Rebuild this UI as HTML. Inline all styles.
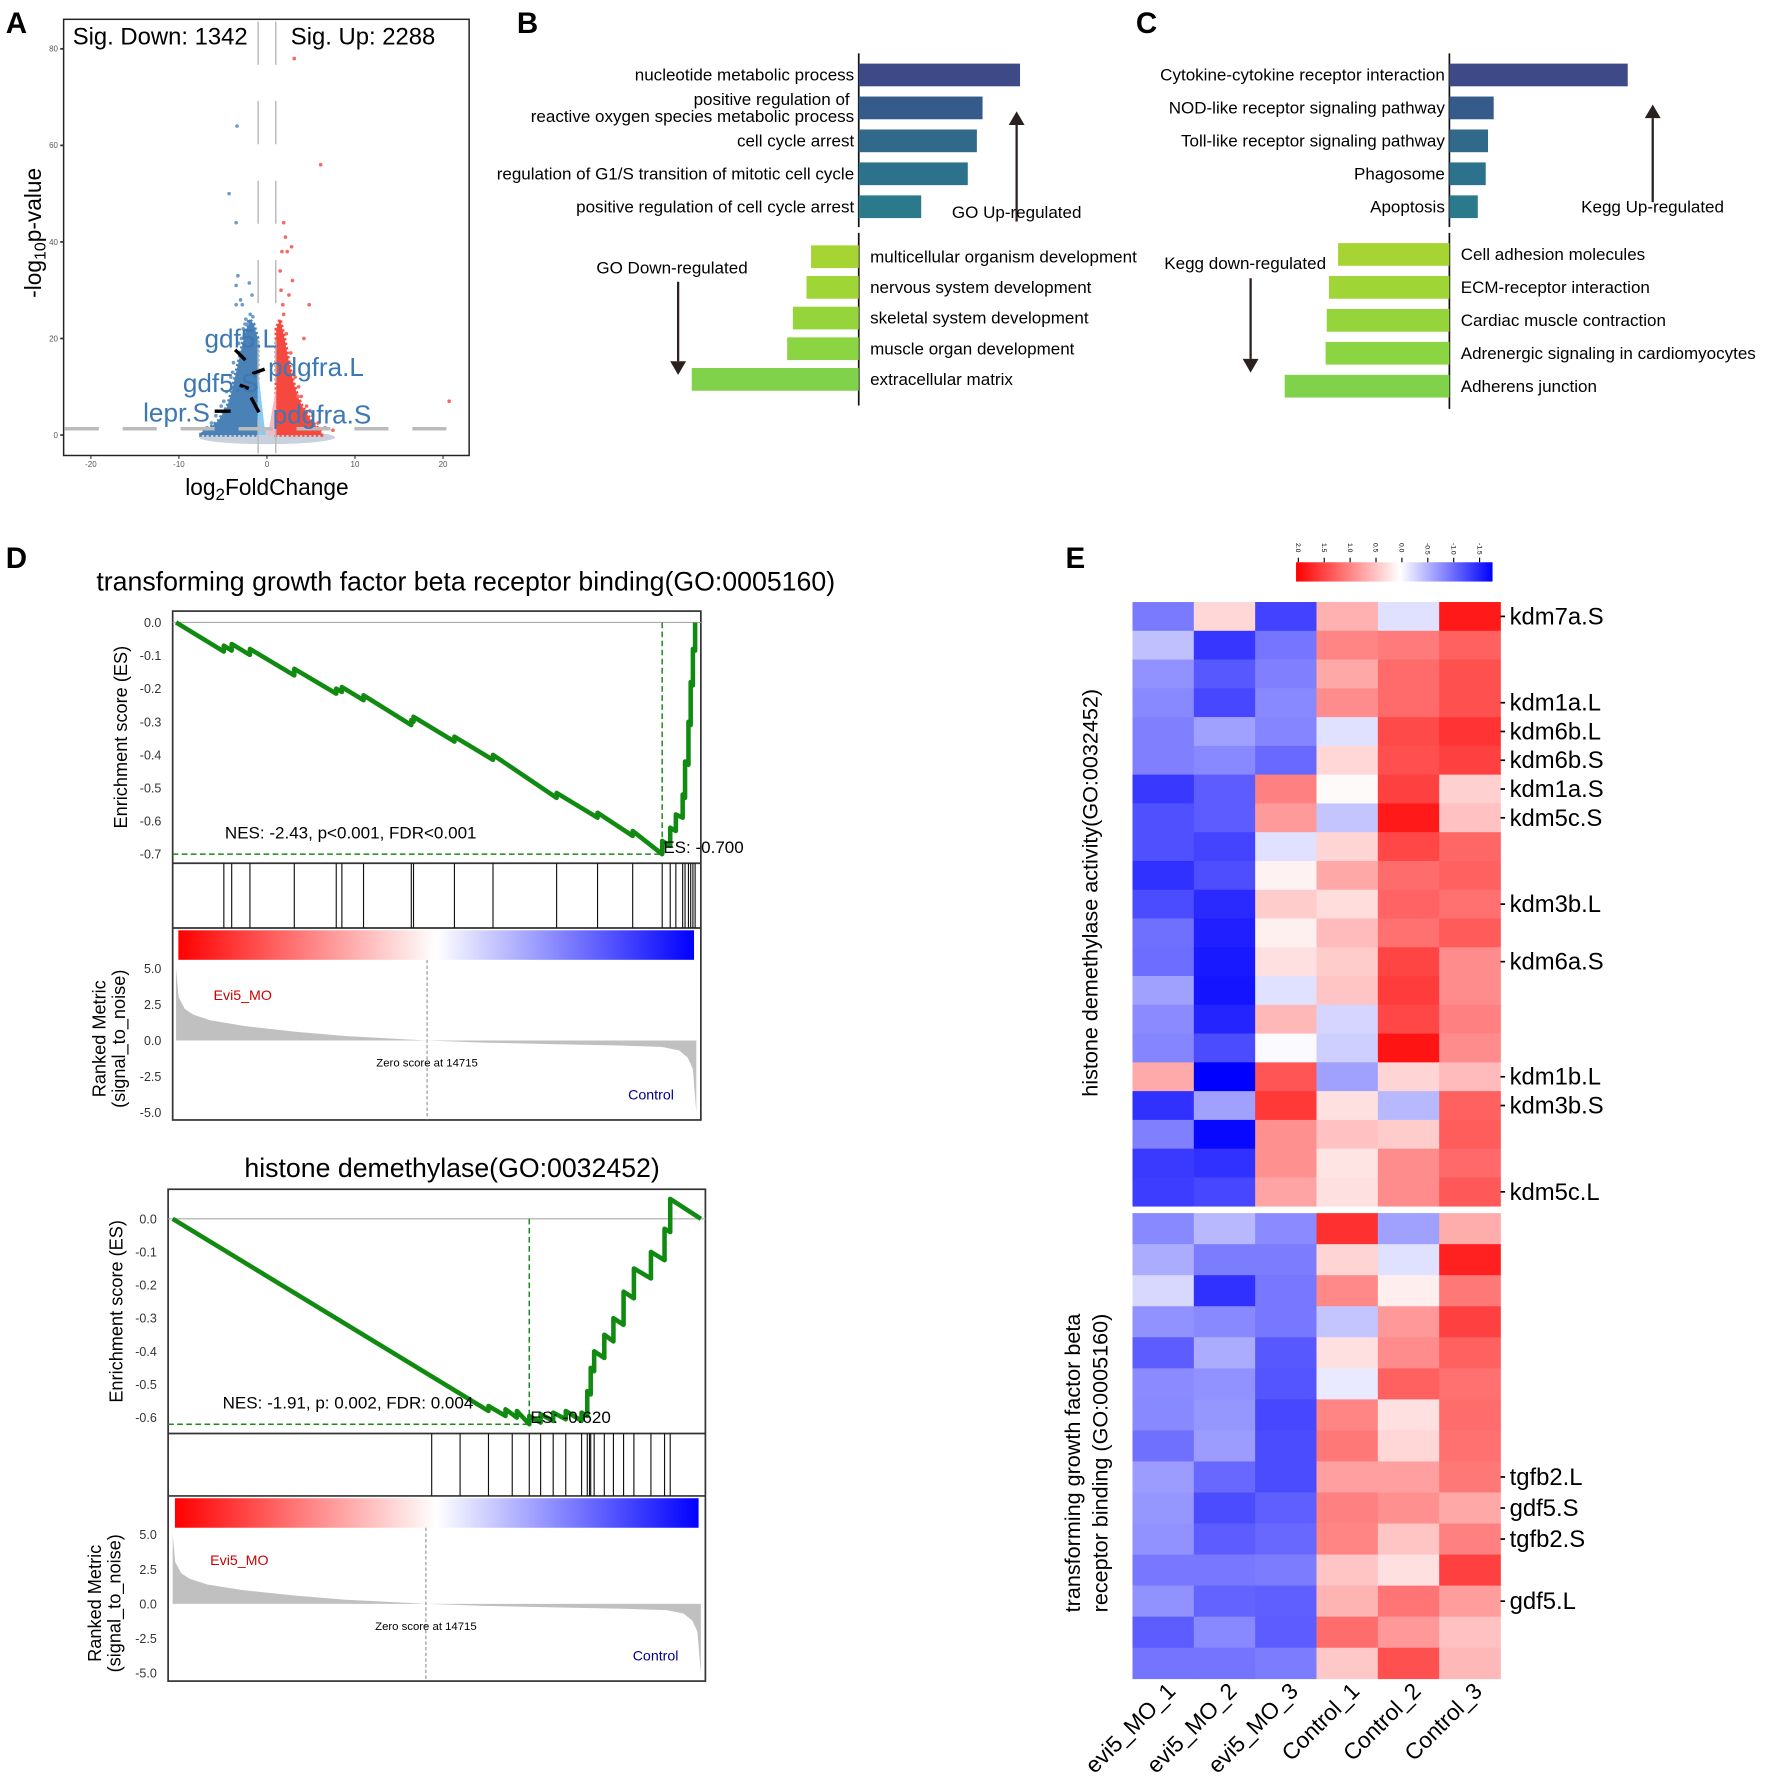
<!DOCTYPE html>
<html><head><meta charset="utf-8"><style>
html,body{margin:0;padding:0;background:#fff}
svg{display:block;font-family:"Liberation Sans",Arial,sans-serif}
</style></head><body>
<svg id="fig" xmlns="http://www.w3.org/2000/svg" width="1772" height="1789" viewBox="0 0 1560 1575"></svg>
<script>
// ---------- Panel A data ----------
const volTicksX=[-20,-10,0,10,20];
const volTicksY=[0,20,40,60,80];
const downEnvX=[-7.5,-6.5,-5.5,-4.5,-4,-3.5,-3,-2.5,-2,-1.5,-1.05];
const downEnvTop=[0.5,1.5,3,6,9,13,17,21,24,23,20];
const upEnvX=[1.05,1.5,2,2.5,3,3.5,4,4.5,5,5.5,6.2];
const upEnvTop=[22,24,20,15,11,8,6,4.5,3,2,0.5];
const downOutX=[-3.4,-4.3,-3.5,-3.3,-3.5,-2,-1.7,-3,-3.5,-2.8,-2.4,-2.2,-5.8,-5.2,-4.6,-4.1,-3.8,-3.2,-2.7,-6.3,-4.9,-3.9,-2.9,-2.5,-1.9,-1.6,-6.8];
const downOutY=[64,50,44,33,31,31.5,29,28,27,27,24,23,4,6,9,12,15,19,22,2.5,7,13,20,23,25,24.5,1.5];
const upOutX=[3.1,6.1,1.9,2.1,2.8,1.7,2.3,1.5,2.9,4.8,1.8,4.2,3.5,20.7,2.5,1.6,3.2,3.9,4.5,5.2,5.8,2.7,2.2,1.9,3.6,4.9,6.6,7.5];
const upOutY=[78,56,44,41,39,38,38,34,32,27,27,20,8,7,29,30,12,8,6,4,2.5,17,21,25,10,5,1.5,1];
// ---------- Panel B/C data ----------
const goUpTerms=["nucleotide metabolic process","positive regulation of|reactive oxygen species metabolic process","cell cycle arrest","regulation of G1/S transition of mitotic cell cycle","positive regulation of cell cycle arrest"];
const goUpVals=[142,109,104,96,55];
const goDownTerms=["multicellular organism development","nervous system development","skeletal system development","muscle organ development","extracellular matrix"];
const goDownVals=[42,46,58,63,147];
const keggUpTerms=["Cytokine-cytokine receptor interaction","NOD-like receptor signaling pathway","Toll-like receptor signaling pathway","Phagosome","Apoptosis"];
const keggUpVals=[157,39,34,32,25];
const keggDownTerms=["Cell adhesion molecules","ECM-receptor interaction","Cardiac muscle contraction","Adrenergic signaling in cardiomyocytes","Adherens junction"];
const keggDownVals=[98,106,108,109,145];
// ---------- Panel D data ----------
const es1Rank=[0,2800,2800,3260,3260,4330,4330,6930,6930,9390,9390,9720,9720,10990,10990,13790,13790,13920,13920,16320,16320,18580,18580,22310,22310,24710,24710,26770,26770,28500,28500,28970,28970,29300,29300,29700,29700,29840,29840,30040,30040,30170,30170,30300,30300,30430,30430];
const es1Val=[0,-0.088,-0.07,-0.085,-0.065,-0.098,-0.08,-0.16,-0.14,-0.215,-0.2,-0.21,-0.195,-0.235,-0.22,-0.31,-0.295,-0.30,-0.285,-0.36,-0.345,-0.415,-0.40,-0.53,-0.515,-0.59,-0.575,-0.645,-0.63,-0.70,-0.66,-0.675,-0.62,-0.63,-0.58,-0.59,-0.52,-0.53,-0.42,-0.43,-0.3,-0.31,-0.18,-0.19,-0.08,-0.085,0];
const hits1=[2800,3260,4330,6930,9390,9720,10990,13790,13920,16320,18580,22310,24710,26770,28500,28970,29300,29700,29840,30040,30170,30300,30430];
const es2Rank=[0,18350,18350,19340,19340,20000,20000,20720,20720,21380,21380,22110,22110,22840,22840,23760,23760,24090,24090,24290,24290,24490,24490,25080,25080,25610,25610,26200,26200,26800,26800,27790,27790,28580,28580,28910,28910,30690];
const es2Val=[0,-0.58,-0.565,-0.595,-0.575,-0.6,-0.58,-0.62,-0.595,-0.615,-0.59,-0.61,-0.585,-0.605,-0.58,-0.61,-0.585,-0.595,-0.52,-0.53,-0.45,-0.46,-0.40,-0.42,-0.35,-0.37,-0.30,-0.32,-0.22,-0.24,-0.15,-0.18,-0.10,-0.125,-0.03,-0.04,0.06,0];
const hits2=[15050,16700,18350,19730,20720,21380,22110,22840,23760,24090,24220,24290,24490,25080,25610,26200,26800,27790,28580,28910];
const metricRank=[0,150,500,1000,2000,4000,7000,10000,14715,18000,22000,26000,28500,29500,30000,30300,30500];
const metricVal=[5.0,3.0,2.2,1.8,1.4,1.0,0.6,0.3,0,-0.15,-0.25,-0.35,-0.45,-0.7,-1.2,-2.0,-5.0];
const metricTicks=[5.0,2.5,0.0,-2.5,-5.0];
// ---------- Panel E data ----------
const hmSamples=["evi5_MO_1","evi5_MO_2","evi5_MO_3","Control_1","Control_2","Control_3"];
const hm1=[
[-0.78,0.31,-1.11,0.62,-0.18,1.8],[-0.37,-1.18,-0.81,0.96,1.04,1.25],[-0.65,-0.98,-0.75,0.68,1.17,1.37],
[-0.7,-1.08,-0.7,0.9,1.17,1.37],[-0.75,-0.56,-0.72,-0.18,1.42,1.6],[-0.75,-0.7,-0.88,0.31,1.38,1.5],
[-1.17,-0.96,1.0,0.04,1.5,0.37],[-1.03,-0.96,0.79,-0.35,1.8,0.49],[-1.03,-1.1,-0.18,0.34,1.44,1.2],
[-1.22,-1.04,0.1,0.68,1.15,1.25],[-1.06,-1.25,0.4,0.27,1.22,1.12],[-0.84,-1.32,0.12,0.53,1.12,1.29],
[-0.86,-1.35,0.24,0.4,1.47,0.9],[-0.56,-1.38,-0.18,0.46,1.53,0.9],[-0.68,-1.29,0.56,-0.25,1.44,1.0],
[-0.72,-1.05,-0.03,-0.28,1.84,0.9],[0.67,-1.5,1.33,-0.56,0.34,0.53],[-1.22,-0.56,1.56,0.24,-0.42,1.25],
[-0.75,-1.45,0.87,0.49,0.4,1.28],[-1.16,-1.22,0.87,0.21,0.9,1.18],[-1.14,-1.08,0.71,0.24,0.9,1.31]];
const hm2=[
[-0.7,-0.42,-0.68,1.62,-0.56,0.65],[-0.49,-0.77,-0.77,0.34,-0.18,1.75],[-0.23,-1.22,-0.8,0.93,0.13,1.06],
[-0.65,-0.7,-0.8,-0.35,0.8,1.5],[-0.96,-0.49,-0.98,0.24,0.9,1.25],[-0.68,-0.65,-1.0,-0.13,1.25,1.12],
[-0.7,-0.62,-1.08,0.96,0.24,1.15],[-0.84,-0.58,-1.05,1.06,0.31,1.12],[-0.58,-0.89,-1.05,0.75,0.75,1.06],
[-0.62,-1.05,-0.94,1.0,0.87,0.68],[-0.65,-0.96,-0.89,0.96,0.46,1.0],[-0.8,-0.8,-0.77,0.46,0.24,1.5],
[-0.65,-0.92,-0.94,0.59,1.09,0.78],[-0.96,-0.7,-0.96,1.15,0.8,0.49],[-0.82,-0.82,-0.77,0.43,1.37,0.56]];
const hm1LabelRows=[1,4,5,6,7,8,11,13,17,18,21];
const hm1Labels=["kdm7a.S","kdm1a.L","kdm6b.L","kdm6b.S","kdm1a.S","kdm5c.S","kdm3b.L","kdm6a.S","kdm1b.L","kdm3b.S","kdm5c.L"];
const hm2LabelRows=[9,10,11,13];
const hm2Labels=["tgfb2.L","gdf5.S","tgfb2.S","gdf5.L"];
const cbTicks=["2.0","1.5","1.0","0.5","0.0","-0.5","-1.0","-1.5"];

const NS="http://www.w3.org/2000/svg";
const svg=document.getElementById('fig');
function mk(tag,attrs,parent){const e=document.createElementNS(NS,tag);for(const k in attrs)e.setAttribute(k,attrs[k]);(parent||svg).appendChild(e);return e;}
function grp(parent){return mk('g',{},parent);}
function tx(x,y,s,attrs,parent){const e=mk('text',Object.assign({x:x,y:y},attrs||{}),parent);e.textContent=s;return e;}

[['A',5,29],['B',455,29],['C',1000,29],['D',5,500],['E',938,500]].forEach(p=>{
  const t=tx(p[1],p[2],p[0],{'font-size':26,'font-weight':'bold'});
  
  
});

// ================= Panel A =================
(function(){
const g=grp();


const ax=v=>235+v*7.75, ay=v=>383-v*4.25;
const base=mk('ellipse',{cx:ax(0),cy:ay(0)+2,rx:60,ry:6,fill:'#c9d1dc'},g);


function cloud(xs,tops,fill,name){
  let pts=[[ax(xs[0]),ay(0)]];
  xs.forEach((x,i)=>pts.push([ax(x),ay(tops[i])]));
  pts.push([ax(xs[xs.length-1]),ay(0)]);
  const p=mk('polygon',{points:pts.map(p=>p.join(',')).join(' '),fill:fill,stroke:fill,'stroke-width':3,'stroke-dasharray':'2,2'},g);
  
  
}
cloud(downEnvX,downEnvTop,'#4a82b8','down-regulated-points');
cloud(upEnvX,upEnvTop,'#f5483f','up-regulated-points');
const lb=mk('polygon',{points:`${ax(-1.05)},${ay(0)} ${ax(-1.05)},${ay(14)} ${ax(-0.3)},${ay(2)} ${ax(-0.1)},${ay(0)}`,fill:'#8ccaf0'},g);


const pk=mk('polygon',{points:`${ax(0.1)},${ay(0)} ${ax(0.3)},${ay(2)} ${ax(1.05)},${ay(10)} ${ax(1.05)},${ay(0)}`,fill:'#f7b6c2'},g);


downOutX.forEach((x,i)=>{const c=mk('circle',{cx:ax(x),cy:ay(downOutY[i]),r:1.6,fill:'#6c9ccc'},g);
  
  });
upOutX.forEach((x,i)=>{const c=mk('circle',{cx:ax(x),cy:ay(upOutY[i]),r:1.6,fill:'#f26a62'},g);
  
  });
[-1,1].forEach(v=>{const l=mk('line',{x1:ax(v),x2:ax(v),y1:19,y2:399,stroke:'#bbb','stroke-width':1.3,'stroke-dasharray':'38,32'},g);
  
  });
const hl=mk('line',{x1:57,x2:412,y1:ay(1.3),y2:ay(1.3),stroke:'#bbb','stroke-width':3,'stroke-dasharray':'30,21'},g);


const box=mk('rect',{x:56,y:17,width:357,height:384,fill:'none',stroke:'#222','stroke-width':1.3},g);


volTicksX.forEach(v=>{mk('line',{x1:ax(v),x2:ax(v),y1:401,y2:404,stroke:'#333'},g);
  const t=tx(ax(v),411,String(v),{'font-size':7,fill:'#555','text-anchor':'middle'},g);
  
  });
volTicksY.forEach(v=>{mk('line',{x1:53,x2:56,y1:ay(v),y2:ay(v),stroke:'#333','stroke-width':1.5},g);
  const t=tx(51,ay(v)+2.5,String(v),{'font-size':7,fill:'#555','text-anchor':'end'},g);
  
  });
const yt=tx(0,0,'',{'font-size':20,'text-anchor':'middle',transform:'translate(36,205) rotate(-90)'},g);
yt.innerHTML='-log<tspan font-size="14" dy="4">10</tspan><tspan dy="-4">p-value</tspan>';


const xt=tx(235,436,'',{'font-size':20,'text-anchor':'middle'},g);
xt.innerHTML='log<tspan font-size="15" dy="4">2</tspan><tspan dy="-4">FoldChange</tspan>';


const sd=tx(64,39,'Sig. Down: 1342',{'font-size':21},g);


const su=tx(256,39,'Sig. Up: 2288',{'font-size':21},g);


[[207,308,216,317],[222,329,233,325],[211,339,219,342],[189,362,203,362],[221,350,228,363]].forEach(s=>{
  const l=mk('line',{x1:s[0],y1:s[1],x2:s[2],y2:s[3],stroke:'#000','stroke-width':3},g);
  
  });
[['gdf5.L',180,306],['pdgfra.L',236,331],['gdf5.S',161,345],['lepr.S',126,371],['pdgfra.S',240,373]].forEach(s=>{
  const t=tx(s[1],s[2],s[0],{'font-size':23,fill:'#3b78b4'},g);
  
  });
})();

// ================= Panels B & C =================
function barPanel(opt){
  const g=grp();
  
  
  const al=mk('line',{x1:opt.axisX,x2:opt.axisX,y1:47,y2:200,stroke:'#111','stroke-width':1.5},g);
  
  
  const al2=mk('line',{x1:opt.axisX,x2:opt.axisX,y1:205,y2:opt.downBottom,stroke:'#111','stroke-width':1.5},g);
  
  
  const upCols=['#3d4a87','#345b89','#31698b','#2c728c','#2a7a8c'];
  const dnCols=['#a6d533','#9fd536','#95d53b','#8bd442','#80d24a'];
  opt.upVals.forEach((v,i)=>{
    const cy=opt.upY[i];
    const r=mk('rect',{x:opt.axisX,y:cy-10,width:v,height:20,fill:upCols[i]},g);
    
    
    const parts=opt.upTerms[i].split('|');
    parts.forEach((p,j)=>{
      const t=tx(opt.axisX-4-(parts.length>1&&j==0?4:0),cy+5+(j-(parts.length-1)/2)*15,p,{'font-size':15,'text-anchor':'end'},g);
      
      
    });
  });
  opt.downVals.forEach((v,i)=>{
    const cy=opt.downY[i];
    const r=mk('rect',{x:opt.axisX-v,y:cy-10,width:v,height:20,fill:dnCols[i]},g);
    
    
    const t=tx(opt.axisX+10,cy+5,opt.downTerms[i],{'font-size':15},g);
    
    
  });
  function arrow(x,y1,y2,name){
    const l=mk('line',{x1:x,x2:x,y1:y1,y2:y2+(y2<y1?12:-12),stroke:'#2a2020','stroke-width':2},g);
    
    
    const d=y2<y1?12:-12;
    const h=mk('polygon',{points:`${x},${y2} ${x-7},${y2+d} ${x+7},${y2+d}`,fill:'#2a2020'},g);
    
    
  }
  arrow(opt.upArrow[0],opt.upArrow[1],opt.upArrow[2],'up-arrow');
  arrow(opt.dnArrow[0],opt.dnArrow[1],opt.dnArrow[2],'down-arrow');
  const ut=tx(opt.upText[0],opt.upText[1],opt.upText[2],{'font-size':15},g);
  
  
  const dt=tx(opt.dnText[0],opt.dnText[1],opt.dnText[2],{'font-size':15},g);
  
  
}
barPanel({name:'go-enrichment-bars',axisX:756,downBottom:357,upVals:goUpVals,upTerms:goUpTerms,upY:[66,95,124,153,182],
  downVals:goDownVals,downTerms:goDownTerms,downY:[226,253,280,307,334],
  upArrow:[895,195,98],dnArrow:[597,248,330],upText:[838,192,'GO Up-regulated'],dnText:[525,241,'GO Down-regulated']});
barPanel({name:'kegg-enrichment-bars',axisX:1276,downBottom:360,upVals:keggUpVals,upTerms:keggUpTerms,upY:[66,95,124,153,182],
  downVals:keggDownVals,downTerms:keggDownTerms,downY:[224,253,282,311,340],
  upArrow:[1455,178,92],dnArrow:[1101,245,328],upText:[1392,187,'Kegg Up-regulated'],dnText:[1025,237,'Kegg down-regulated']});

// ================= Panel D =================
let gradCount=0;
function gsea(c){
  const g=grp();
  
  
  const xr=r=>c.x0+r/c.total*(c.x1-c.x0);
  const ye=v=>c.esZero-v*c.esUnit;
  const ym=v=>c.mZero-v*c.mUnit;
  const t=tx(c.titleX,c.titleY,c.title,{'font-size':c.titleSize,'text-anchor':'middle'},g);
  
  
  const f=mk('rect',{x:c.bx0,y:c.by0,width:c.bx1-c.bx0,height:c.by1-c.by0,fill:'none',stroke:'#333','stroke-width':1.5},g);
  
  
  [c.esBottom,c.hitBottom].forEach(y=>{const l=mk('line',{x1:c.bx0,x2:c.bx1,y1:y,y2:y,stroke:'#333','stroke-width':1.5},g);
    
    });
  const zl=mk('line',{x1:c.bx0,x2:c.bx1,y1:ye(0),y2:ye(0),stroke:'#aaa','stroke-width':1},g);
  
  
  c.esTicks.forEach(v=>{const tt=tx(c.bx0-10,ye(v)+4,v.toFixed(1),{'font-size':11,'text-anchor':'end',fill:'#333'},g);
    
    });
  metricTicks.forEach(v=>{const tt=tx(c.bx0-10,ym(v)+4,v.toFixed(1),{'font-size':11,'text-anchor':'end',fill:'#333'},g);
    
    });
  const yt=tx(0,0,'Enrichment score (ES)',{'font-size':16,'text-anchor':'middle',transform:`translate(${c.bx0-40},${(c.by0+c.esBottom)/2}) rotate(-90)`},g);
  
  
  const m1=tx(0,0,'Ranked Metric',{'font-size':16,'text-anchor':'middle',transform:`translate(${c.bx0-59},${(c.hitBottom+26+c.by1)/2}) rotate(-90)`},g);
  
  
  const m2=tx(0,0,'(signal_to_noise)',{'font-size':16,'text-anchor':'middle',transform:`translate(${c.bx0-42},${(c.hitBottom+26+c.by1)/2}) rotate(-90)`},g);
  
  
  let mi=0;c.esVal.forEach((v,i)=>{if(v<c.esVal[mi])mi=i;});
  const mx=xr(c.esRank[mi]), my=ye(c.esVal[mi]);
  const dh=mk('line',{x1:c.bx0,x2:mx,y1:my,y2:my,stroke:'#1a8a1a','stroke-width':1.3,'stroke-dasharray':'5,3'},g);
  
  
  const dv=mk('line',{x1:mx,x2:mx,y1:ye(0),y2:my,stroke:'#1a8a1a','stroke-width':1.3,'stroke-dasharray':'5,3'},g);
  
  
  const es=mk('polyline',{points:c.esRank.map((r,i)=>xr(r)+','+ye(c.esVal[i])).join(' '),fill:'none',stroke:'#108a10','stroke-width':4,'stroke-linejoin':'round'},g);
  
  
  const n=tx(c.nesX,my-14,c.nes,{'font-size':15},g);
  
  
  const el=tx(mx+1,my-1,'ES: '+c.esVal[mi].toFixed(3),{'font-size':15},g);
  
  
  c.hits.forEach(r=>{const l=mk('line',{x1:xr(r),x2:xr(r),y1:c.esBottom,y2:c.hitBottom,stroke:'#111','stroke-width':1},g);
    
    });
  const id='grad'+(gradCount++);
  const defs=mk('defs',{},g);
  const lg=mk('linearGradient',{id:id,x1:0,x2:1,y1:0,y2:0},defs);
  mk('stop',{offset:'0','stop-color':'#ff0000'},lg);
  mk('stop',{offset:'0.5','stop-color':'#ffffff'},lg);
  mk('stop',{offset:'1','stop-color':'#0000ff'},lg);
  const gb=mk('rect',{x:c.x0+2,y:c.hitBottom+2,width:c.x1-c.x0-4,height:26,fill:`url(#${id})`},g);
  
  
  const pts=[[xr(0),ym(0)]].concat(metricRank.map((r,i)=>[xr(r*c.total/30500),ym(metricVal[i])])).concat([[xr(c.total),ym(0)]]);
  const ma=mk('polygon',{points:pts.map(p=>p.join(',')).join(' '),fill:'#c0c0c0'},g);
  
  
  const zx=xr(14715);
  const zv=mk('line',{x1:zx,x2:zx,y1:c.hitBottom+28,y2:c.by1,stroke:'#777','stroke-width':0.8,'stroke-dasharray':'3,2'},g);
  
  
  const zt=tx(zx,ym(0)+23,'Zero score at 14715',{'font-size':10,'text-anchor':'middle'},g);
  
  
  const ev=tx(c.x0+33,ym(2.8),'Evi5_MO',{'font-size':12.5,fill:'#cc0000'},g);
  
  
  const ct=tx(c.x1-60,ym(-4.1),'Control',{'font-size':12.5,fill:'#00008b'},g);
  
  
}
gsea({name:'gsea-tgfb',title:'transforming growth factor beta receptor binding(GO:0005160)',titleX:410,titleY:520,titleSize:23.5,
  bx0:152,bx1:617,by0:538,by1:986,esBottom:760,hitBottom:817,x0:155,x1:613,total:30500,
  esZero:548,esUnit:291.4,mZero:916,mUnit:12.7,esTicks:[0,-0.1,-0.2,-0.3,-0.4,-0.5,-0.6,-0.7],
  esRank:es1Rank,esVal:es1Val,hits:hits1,nes:'NES: -2.43, p<0.001, FDR<0.001',nesX:198});
gsea({name:'gsea-histone',title:'histone demethylase(GO:0032452)',titleX:398,titleY:1036,titleSize:23.5,
  bx0:148,bx1:621,by0:1047,by1:1480,esBottom:1262,hitBottom:1317,x0:152,x1:617,total:30690,
  esZero:1073,esUnit:291.7,mZero:1412,mUnit:12.2,esTicks:[0,-0.1,-0.2,-0.3,-0.4,-0.5,-0.6],
  esRank:es2Rank,esVal:es2Val,hits:hits2,nes:'NES: -1.91, p: 0.002, FDR: 0.004',nesX:196});

// ================= Panel E =================
(function(){
const g=grp();


function col(v){
  if(v>=0){const k=Math.max(0,Math.round(255*(1-Math.min(v,2)/2)));return `rgb(255,${k},${k})`;}
  const k=Math.max(0,Math.round(255*(1+Math.max(v,-1.5)/1.5)));return `rgb(${k},${k},255)`;
}
const X0=997,CW=54;
function block(data,y0,rh,labelRows,labels,bname){
  data.forEach((row,i)=>row.forEach((v,j)=>{
    const r=mk('rect',{x:X0+j*CW,y:y0+i*rh,width:CW+0.3,height:rh+0.3,fill:col(v)},g);
    
    
  }));
  labelRows.forEach((ri,k)=>{
    const cy=y0+(ri-0.5)*rh;
    mk('line',{x1:X0+6*CW,x2:X0+6*CW+4,y1:cy,y2:cy,stroke:'#000','stroke-width':1.5},g);
    const t=tx(X0+6*CW+8,cy+7,labels[k],{'font-size':21},g);
    
    
  });
}
block(hm1,530,25.33,hm1LabelRows,hm1Labels,'histone');
block(hm2,1068,27.33,hm2LabelRows,hm2Labels,'tgfb');
hmSamples.forEach((s,j)=>{
  const cx=X0+j*CW+CW/2+12;
  const t=tx(0,0,s,{'font-size':20,'text-anchor':'end',transform:`translate(${cx},1490) rotate(-45)`},g);
  
  
});
const t1=tx(0,0,'histone demethylase activity(GO:0032452)',{'font-size':19,'text-anchor':'middle',transform:'translate(966,786) rotate(-90)'},g);


const t2=tx(0,0,'transforming growth factor beta',{'font-size':19,'text-anchor':'middle',transform:'translate(951,1288) rotate(-90)'},g);


const t3=tx(0,0,'receptor binding (GO:0005160)',{'font-size':19,'text-anchor':'middle',transform:'translate(975,1288) rotate(-90)'},g);


const defs=mk('defs',{},g);
const lg=mk('linearGradient',{id:'cbg',x1:0,x2:1,y1:0,y2:0},defs);
mk('stop',{offset:'0','stop-color':'#ff0000'},lg);
mk('stop',{offset:'0.53','stop-color':'#ffffff'},lg);
mk('stop',{offset:'1','stop-color':'#0000ff'},lg);
const cb=mk('rect',{x:1141,y:495,width:173,height:17,fill:'url(#cbg)'},g);


cbTicks.forEach((s,i)=>{
  const x=1143+i*22.8;
  mk('line',{x1:x,x2:x,y1:491,y2:495,stroke:'#000'},g);
  const t=tx(0,0,s,{'font-size':6,'text-anchor':'start',transform:`translate(${x-2},478) rotate(90)`},g);
  
  
});
})();
</script>
</body></html>
